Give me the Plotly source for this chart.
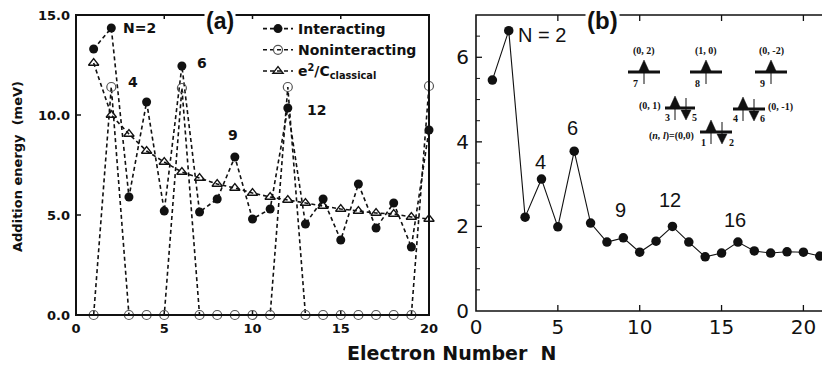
import plotly.graph_objects as go

# ---------------- data ----------------
N_left = list(range(1, 21))
interacting = [13.3, 14.35, 5.9, 10.65, 5.2, 12.45, 5.15, 5.8, 7.9, 4.8,
               5.3, 10.35, 4.55, 5.8, 3.75, 6.55, 4.35, 5.6, 3.4, 9.25]
noninteracting = [0, 11.4, 0, 0, 0, 11.35, 0, 0, 0, 0,
                  0, 11.4, 0, 0, 0, 0, 0, 0, 0, 11.45]
classical = [12.6, 10.0, 9.05, 8.2, 7.65, 7.15, 6.85, 6.55, 6.35, 6.1,
             5.9, 5.75, 5.6, 5.45, 5.3, 5.2, 5.1, 5.05, 4.9, 4.8]

N_right = list(range(1, 23))
addition_b = [5.46, 6.63, 2.22, 3.12, 1.99, 3.78, 2.08, 1.63, 1.73, 1.39,
              1.65, 2.0, 1.63, 1.28, 1.37, 1.63, 1.42, 1.37, 1.40, 1.39,
              1.30, 1.2]

left_ticks = [0, 5, 10, 15]
left_ticktext = ["0.0", "5.0", "10.0", "15.0"]
x_ticks = [0, 5, 10, 15, 20]
right_yticks = [0, 2, 4, 6]
right_yminor = [0.5, 1, 1.5, 2.5, 3, 3.5, 4.5, 5, 5.5, 6.5]

# The page body has an 8 px margin, so the figure is drawn 8 px in from the
# window corner; reference pixel positions are shifted by that amount.
OFF = 8
W, H = 830 - OFF, 374 - OFF
def px(x):
    return (x - OFF) / W
def py(y):
    return 1 - (y - OFF) / H

BLK = "#111111"
SANS = "Liberation Sans, Arial, Helvetica, sans-serif"
WIDE = "DejaVu Sans, Verdana, sans-serif"
SERIF = "Liberation Serif, Times New Roman, serif"

fig = go.Figure()

dash = "4px,3px"
fig.add_trace(go.Scatter(
    x=N_left, y=interacting, name="Interacting", mode="lines+markers",
    line=dict(color=BLK, width=1.6, dash=dash),
    marker=dict(symbol="circle", size=9, color=BLK),
    cliponaxis=False, xaxis="x", yaxis="y"))
fig.add_trace(go.Scatter(
    x=N_left, y=noninteracting, name="Noninteracting", mode="lines+markers",
    line=dict(color=BLK, width=1.6, dash=dash),
    marker=dict(symbol="circle-open", size=9, color="#555555", line=dict(width=1.2)),
    cliponaxis=False, xaxis="x", yaxis="y"))
fig.add_trace(go.Scatter(
    x=N_left, y=classical, name="e<sup>2</sup>/C<sub>classical</sub>", mode="lines+markers",
    line=dict(color=BLK, width=1.6, dash=dash),
    marker=dict(symbol="triangle-up-open", size=9, color=BLK, line=dict(width=1.3)),
    cliponaxis=False, xaxis="x", yaxis="y"))

fig.add_trace(go.Scatter(
    x=N_right, y=addition_b, mode="lines+markers", showlegend=False,
    line=dict(color=BLK, width=1.1),
    marker=dict(symbol="circle", size=9.5, color=BLK),
    xaxis="x2", yaxis="y2"))

axis_common = dict(showline=False, showgrid=False, zeroline=False, ticks="",
                   automargin=False, ticklabeloverflow="allow")

fig.update_layout(
    template="none",
    width=W, height=H,
    autosize=False,
    margin=dict(l=0, r=0, t=0, b=0, pad=0, autoexpand=False),
    paper_bgcolor="white", plot_bgcolor="white",
    xaxis=dict(domain=[px(76), px(429)], range=[0, 20], tickvals=x_ticks,
               ticklabelstandoff=4,
               tickfont=dict(family=WIDE, size=13, color=BLK, weight="bold"),
               anchor="y", **axis_common),
    yaxis=dict(domain=[py(315), py(15)], range=[0, 15], tickvals=left_ticks,
               ticktext=left_ticktext, ticklabelstandoff=5,
               tickfont=dict(family=WIDE, size=13, color=BLK, weight="bold"),
               anchor="x", **axis_common),
    xaxis2=dict(domain=[px(476), 1.0], range=[0, 354 / 16.37], tickvals=x_ticks,
                ticklabelstandoff=2,
                tickfont=dict(family=WIDE, size=20, color=BLK),
                anchor="y2", **axis_common),
    yaxis2=dict(domain=[py(311), py(15)], range=[0, 7], tickvals=right_yticks,
                ticklabelstandoff=6,
                tickfont=dict(family=WIDE, size=20, color=BLK),
                anchor="x2", **axis_common),
    legend=dict(x=px(258), y=py(13), xanchor="left", yanchor="top",
                bgcolor="rgba(0,0,0,0)", borderwidth=0,
                font=dict(family=WIDE, size=14, color=BLK, weight="bold"),
                itemsizing="trace", tracegroupgap=0),
    showlegend=True,
)

shapes = []
# ---- frames and tick marks ----
def frame(xa, ya, width):
    shapes.append(dict(type="rect", xref=f"{xa} domain", yref=f"{ya} domain",
                       x0=0, x1=1, y0=0, y1=1, line=dict(color=BLK, width=width),
                       fillcolor="rgba(0,0,0,0)", layer="above"))

def xticks(xa, ya, vals, frac, width, both=False):
    for v in vals:
        shapes.append(dict(type="line", xref=xa, yref=f"{ya} domain",
                           x0=v, x1=v, y0=0, y1=frac, line=dict(color=BLK, width=width)))
        if both:
            shapes.append(dict(type="line", xref=xa, yref=f"{ya} domain",
                               x0=v, x1=v, y0=1, y1=1 - frac, line=dict(color=BLK, width=width)))

def yticks(xa, ya, vals, frac, width, both=False):
    for v in vals:
        shapes.append(dict(type="line", xref=f"{xa} domain", yref=ya,
                           x0=0, x1=frac, y0=v, y1=v, line=dict(color=BLK, width=width)))
        if both:
            shapes.append(dict(type="line", xref=f"{xa} domain", yref=ya,
                               x0=1, x1=1 - frac, y0=v, y1=v, line=dict(color=BLK, width=width)))

frame("x", "y", 2)
frame("x2", "y2", 1.6)
xticks("x", "y", [5, 10, 15], 4 / 300, 1.5, both=True)
yticks("x", "y", [5, 10], 5 / 353, 1.5)
xticks("x2", "y2", [5, 10, 15, 20], 6 / 296, 1.3, both=True)
yticks("x2", "y2", [2, 4, 6], 6 / 354, 1.3, both=True)
yticks("x2", "y2", right_yminor, 4 / 354, 1, both=True)

ann = []
def add_text(text, x, y, size, xref="paper", yref="paper", family=SANS, weight="normal",
             bg=None, angle=0, xanchor="center"):
    d = dict(text=text, x=x, y=y, xref=xref, yref=yref, showarrow=False,
             font=dict(family=family, size=size, color=BLK, weight=weight),
             xanchor=xanchor, yanchor="middle", textangle=angle)
    if bg:
        d["bgcolor"] = bg
    ann.append(d)

# left panel labels
add_text("N=2", px(139), py(28), 14, family=WIDE, weight="bold")
add_text("4", px(133), py(82), 14, family=WIDE, weight="bold")
add_text("6", px(202), py(63), 14, family=WIDE, weight="bold")
add_text("9", px(233), py(135), 14, family=WIDE, weight="bold")
add_text("12", px(316), py(110), 14, family=WIDE, weight="bold")
add_text("(a)", px(220), py(21), 23, family=SANS, weight="bold", bg="white")

# right panel labels
add_text("N = 2", px(542), py(35), 20)
add_text("4", px(540), py(162), 20)
add_text("6", px(572), py(128), 20)
add_text("9", px(620), py(210), 20)
add_text("12", px(670), py(200), 20)
add_text("16", px(735), py(220), 20)
add_text("(b)", px(602), py(20), 24, weight="bold", bg="white")

# axis titles
add_text("Addition energy  (meV)", px(18), py(167), 13, family=WIDE, weight="bold", angle=-90)
add_text("Electron Number  N", px(452), py(353), 19, family=WIDE, weight="bold")

# ---- inset energy-level diagram (decorative) ----
def level(x0, x1, y):
    shapes.append(dict(type="line", xref="paper", yref="paper",
                       x0=px(x0), x1=px(x1), y0=py(y), y1=py(y),
                       line=dict(color=BLK, width=3)))
def up_arrow(x, y):
    shapes.append(dict(type="line", xref="paper", yref="paper",
                       x0=px(x), x1=px(x), y0=py(y + 12), y1=py(y - 6),
                       line=dict(color=BLK, width=1)))
    shapes.append(dict(type="path", xref="paper", yref="paper",
                       path=f"M {px(x-5)},{py(y-1)} L {px(x+5)},{py(y-1)} L {px(x)},{py(y-12)} Z",
                       fillcolor=BLK, line=dict(color=BLK, width=0.5)))
def down_arrow(x, y):
    shapes.append(dict(type="line", xref="paper", yref="paper",
                       x0=px(x), x1=px(x), y0=py(y - 10), y1=py(y + 4),
                       line=dict(color=BLK, width=1)))
    shapes.append(dict(type="path", xref="paper", yref="paper",
                       path=f"M {px(x-5)},{py(y+2)} L {px(x+5)},{py(y+2)} L {px(x)},{py(y+12)} Z",
                       fillcolor=BLK, line=dict(color=BLK, width=0.5)))

# top row
for (cx, lab, num) in [(644, "(0, 2)", "7"), (706, "(1, 0)", "8"), (771, "(0, -2)", "9")]:
    level(cx - 16, cx + 16, 72)
    up_arrow(cx, 72)
    add_text(lab, px(cx), py(51), 10, family=SERIF, weight="bold")
    add_text(num, px(cx - 4), py(83), 10, family=SERIF, weight="bold", xanchor="right")

# middle row
level(665, 695, 108)
up_arrow(675, 108)
down_arrow(686, 108)
add_text("(0, 1)", px(663), py(106), 10, family=SERIF, weight="bold", xanchor="right")
add_text("3", px(672), py(117), 10, family=SERIF, weight="bold", xanchor="right")
add_text("5", px(690), py(117), 10, family=SERIF, weight="bold", xanchor="left")

level(733, 765, 109)
up_arrow(743, 109)
down_arrow(754, 109)
add_text("(0, -1)", px(766), py(107), 10, family=SERIF, weight="bold", xanchor="left")
add_text("4", px(740), py(118), 10, family=SERIF, weight="bold", xanchor="right")
add_text("6", px(758), py(118), 10, family=SERIF, weight="bold", xanchor="left")

# bottom row
level(700, 732, 132)
up_arrow(711, 132)
down_arrow(722, 132)
add_text("(<i>n, l</i>)=(0,0)", px(696), py(136), 10, family=SERIF, weight="bold", xanchor="right")
add_text("1", px(708), py(142), 10, family=SERIF, weight="bold", xanchor="right")
add_text("2", px(727), py(142), 10, family=SERIF, weight="bold", xanchor="left")

fig.update_layout(annotations=ann, shapes=shapes)

fig.write_html("out.html")
